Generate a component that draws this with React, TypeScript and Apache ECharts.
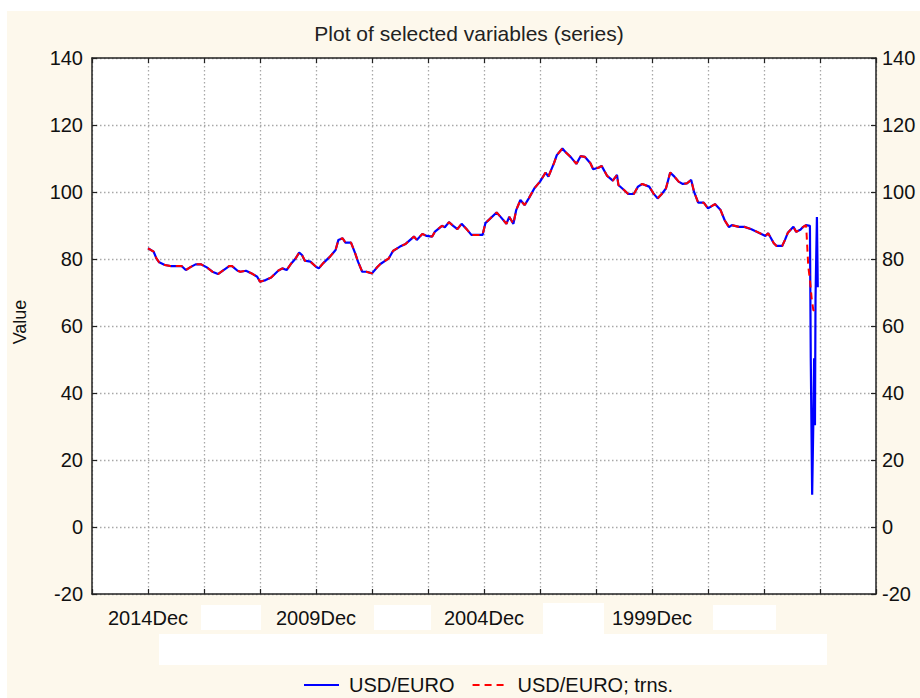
import React, { useEffect, useRef } from "react";
import * as echarts from "echarts";

// Month index counted from 2014 Dec (0) going back in time
const monthIdx = [
  0, 2, 3, 4, 6, 8, 12, 13.5, 15, 17, 19, 21, 23, 25, 27, 29, 30, 32, 33, 35,
  37, 39, 40, 42, 44, 46.5, 48, 49.5, 51, 52.5, 54, 55, 56, 58, 60, 61, 62.5, 65, 67, 68,
  69.5, 70.5, 72.5, 74, 75, 76.5, 78, 80, 82, 83, 86, 87.5, 90, 92, 95, 96, 98, 99.5, 101.5, 102.5,
  105, 106, 107.5, 109, 110.5, 112, 114, 115.5, 117.5, 119.5, 120.5, 122, 124.5, 126, 128, 129, 130.5, 131.5, 133, 134.5,
  136, 137, 138, 140, 142, 143, 145, 146, 148, 149, 151, 153, 154.5, 156, 158, 159, 161, 162, 164, 166,
  167.5, 168, 170, 171.5, 173.5, 175, 176.5, 179, 180.5, 182, 183.5, 185, 186.5, 188, 189.5, 191, 192.5, 194, 195, 196.5,
  198.5, 200, 202.5, 204.5, 206, 207.5, 208.5, 211, 213, 215.5, 218.5, 220.5, 221.5, 223.5, 224.5, 226.5, 227.5, 228.5, 230.5, 231.5,
  233, 234, 235,
];
const usdEuro = [
  83.2, 82.2, 80.2, 79.0, 78.2, 77.9, 77.9, 76.7, 77.5, 78.4, 78.4, 77.5, 76.2, 75.5, 76.7, 77.9, 77.9, 76.5, 76.2, 76.5,
  75.7, 74.7, 73.2, 73.7, 74.5, 76.5, 77.2, 76.7, 78.5, 79.9, 81.9, 81.2, 79.5, 79.2, 77.7, 77.2, 78.7, 80.7, 82.7, 85.7,
  86.2, 84.9, 84.9, 81.7, 79.2, 76.2, 76.2, 75.7, 77.7, 78.5, 80.2, 82.4, 83.7, 84.5, 86.7, 85.7, 87.5, 86.9, 86.7, 88.2,
  89.9, 89.5, 91.0, 89.9, 88.9, 90.5, 88.7, 87.2, 87.2, 87.2, 90.7, 91.9, 93.9, 92.5, 90.5, 92.6, 90.5, 94.6, 97.6, 96.1,
  98.1, 99.6, 101.1, 103.1, 105.8, 104.6, 108.6, 111.0, 113.0, 112.0, 110.4, 108.4, 110.7, 110.5, 108.6, 106.8, 107.3, 107.8, 104.8, 103.4,
  105.1, 102.1, 100.6, 99.4, 99.4, 101.6, 102.4, 101.6, 99.6, 98.1, 99.4, 101.1, 105.8, 104.6, 103.1, 102.4, 102.6, 103.6, 100.1, 96.8,
  96.8, 95.1, 96.4, 94.6, 91.5, 89.5, 90.1, 89.6, 89.6, 88.9, 87.7, 86.9, 87.7, 84.7, 83.9, 83.9, 85.7, 87.8, 89.6, 88.1,
  88.7, 89.6, 90.1,
];
// Erratic tail of the raw series
const blueTailIdx = [236.4, 236.7, 237.2, 237.6, 237.9, 238.2, 238.4, 238.9, 239.2];
const blueTailVal = [89.9, 50.4, 9.6, 30.4, 50.4, 30.4, 68.3, 92.5, 71.6];
// Tail of the transformed series
const redTailIdx = [235.2, 235.8, 236.4, 237.0, 237.6, 238.2];
const redTailVal = [87.7, 77.9, 73.8, 68.4, 64.8, 64.3];

const xLabelIdx = [0, 60, 120, 180];
const xLabels = ["2014Dec", "2009Dec", "2004Dec", "1999Dec"];
const seriesNames = ["USD/EURO", "USD/EURO; trns."];

const FONT = "'Liberation Sans', Arial, sans-serif";

export default function App() {
  const ref = useRef<HTMLDivElement>(null);
  useEffect(() => {
    if (!ref.current) return;
    const chart = echarts.init(ref.current, null, { renderer: "svg" });
    const blueData = monthIdx.map((m, i) => [m, usdEuro[i]]).concat(
      blueTailIdx.map((m, i) => [m, blueTailVal[i]])
    );
    const redData = monthIdx.map((m, i) => [m, usdEuro[i]]).concat(
      redTailIdx.map((m, i) => [m, redTailVal[i]])
    );
    const gridLine = { show: true, lineStyle: { color: "#a8a8a8", width: 1.3, type: [1.5, 2.5] as any } };
    const axisLine = { show: true, onZero: false, lineStyle: { color: "#222", width: 1.5 } };
    const tick = { show: true, inside: true, length: 5, lineStyle: { color: "#222", width: 1.2 } };
    const fmtX = (v: number) => {
      const k = xLabelIdx.indexOf(v);
      return k >= 0 ? xLabels[k] : "";
    };
    chart.setOption({
      animation: false,
      backgroundColor: "#ffffff",
      textStyle: { fontFamily: FONT },
      graphic: [
        { type: "rect", z: -10, shape: { x: 7, y: 11, width: 913, height: 687 }, style: { fill: "#fdf8ec" } },
        { type: "rect", z: -5, shape: { x: 201, y: 605, width: 60, height: 25 }, style: { fill: "#ffffff" } },
        { type: "rect", z: -5, shape: { x: 374, y: 605, width: 57, height: 25 }, style: { fill: "#ffffff" } },
        { type: "rect", z: -5, shape: { x: 543, y: 603, width: 61, height: 31 }, style: { fill: "#ffffff" } },
        { type: "rect", z: -5, shape: { x: 713, y: 605, width: 63, height: 25 }, style: { fill: "#ffffff" } },
        { type: "rect", z: -5, shape: { x: 159, y: 634, width: 668, height: 31 }, style: { fill: "#ffffff" } },
        {
          type: "text",
          x: 20,
          y: 322,
          rotation: Math.PI / 2,
          style: { text: "Value", fontSize: 18, fontFamily: FONT, fill: "#111", align: "center", verticalAlign: "middle" },
        },
      ],
      title: {
        text: "Plot of selected variables (series)",
        left: 464,
        top: 18,
        textAlign: "center",
        textStyle: { fontSize: 21, fontWeight: "normal", color: "#222", fontFamily: FONT },
      },
      legend: {
        data: seriesNames,
        left: 298,
        top: 670,
        itemWidth: 35,
        itemHeight: 14,
        itemGap: 17,
        itemStyle: { opacity: 0 },
        textStyle: { fontSize: 20, color: "#111", fontFamily: FONT, padding: [0, 0, 0, 5] },
      },
      grid: { left: 92, right: 44, top: 58, bottom: 104, backgroundColor: "#ffffff", show: true, borderWidth: 0 },
      xAxis: [
        {
          type: "value",
          min: -20,
          max: 260,
          interval: 20,
          position: "bottom",
          axisLine,
          axisTick: tick,
          splitLine: gridLine,
          axisLabel: { formatter: fmtX, fontSize: 20, color: "#111", margin: 14, showMinLabel: true, showMaxLabel: true },
        },
        {
          type: "value",
          min: -20,
          max: 260,
          interval: 20,
          position: "top",
          axisLine,
          axisTick: tick,
          splitLine: { show: false },
          axisLabel: { show: false },
        },
      ],
      yAxis: [
        {
          type: "value",
          min: -20,
          max: 140,
          interval: 20,
          position: "left",
          axisLine,
          axisTick: tick,
          splitLine: gridLine,
          axisLabel: { fontSize: 20, color: "#111", margin: 9 },
        },
        {
          type: "value",
          min: -20,
          max: 140,
          interval: 20,
          position: "right",
          axisLine,
          axisTick: tick,
          splitLine: { show: false },
          axisLabel: { fontSize: 20, color: "#111", margin: 6 },
        },
      ],
      series: [
        {
          name: seriesNames[0],
          type: "line",
          data: blueData,
          showSymbol: false,
          symbol: "none",
          lineStyle: { color: "#0000ff", width: 2.2 },
          itemStyle: { color: "#0000ff" },
        },
        {
          name: seriesNames[1],
          type: "line",
          data: redData,
          showSymbol: false,
          symbol: "none",
          lineStyle: { color: "#ff0000", width: 2, type: [7, 5] },
          itemStyle: { color: "#ff0000" },
        },
      ],
    });
    return () => chart.dispose();
  }, []);
  return <div ref={ref} style={{ position: "fixed", left: 0, top: 0, width: 920, height: 698 }} />;
}
